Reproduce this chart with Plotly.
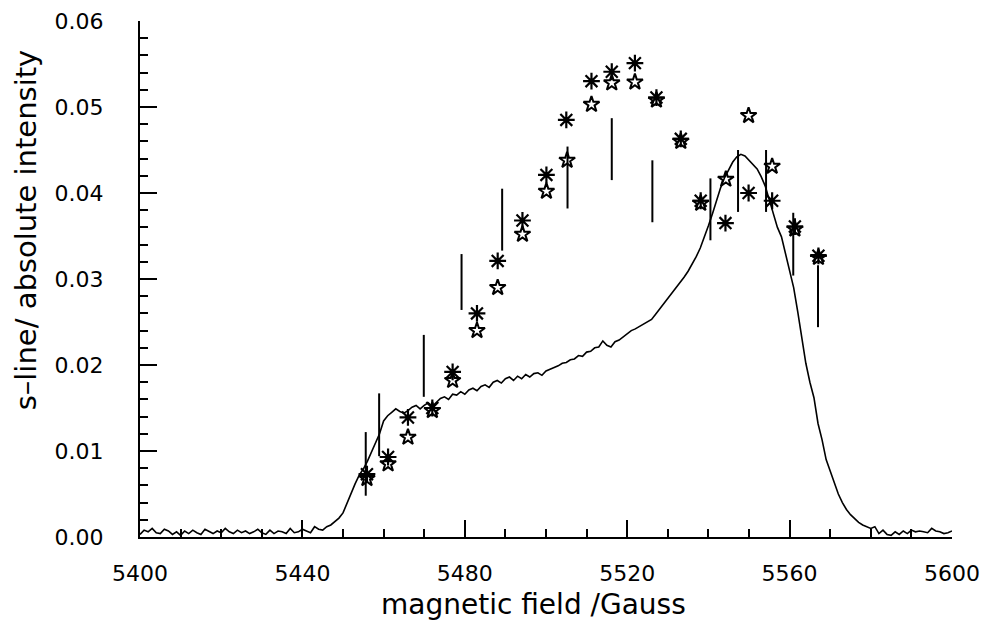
import plotly.graph_objects as go

# ---------------- data ----------------
# measured spectrum (magnetic field in Gauss, absolute intensity)
field = list(range(5400, 5601))
intensity = [
    # 5400-5444 baseline
    0.0003, 0.0008, 0.0006, 0.0010, 0.0005, 0.0004, 0.0009, 0.0007, 0.0003, 0.0006,
    0.0002, 0.0007, 0.0004, 0.0008, 0.0005, 0.0003, 0.0009, 0.0006, 0.0004, 0.0007,
    0.0005, 0.0010, 0.0006, 0.0004, 0.0008, 0.0005, 0.0007, 0.0004, 0.0006, 0.0009,
    0.0005, 0.0003, 0.0008, 0.0004, 0.0007, 0.0006, 0.0004, 0.0010, 0.0005, 0.0006,
    0.0009, 0.0007, 0.0005, 0.0012, 0.0009,
    # 5445-5499 rise and plateau
    0.0008, 0.0012, 0.0014, 0.0018, 0.0022, 0.0028, 0.0040, 0.0050, 0.0062, 0.0072,
    0.0079, 0.0088, 0.0098, 0.0108, 0.0120, 0.0135, 0.0141, 0.0145, 0.0149, 0.0146,
    0.0144, 0.0147, 0.0151, 0.0153, 0.0149, 0.0153, 0.0156, 0.0152, 0.0157, 0.0161,
    0.0163, 0.0160, 0.0166, 0.0165, 0.0169, 0.0166, 0.0171, 0.0173, 0.0170, 0.0175,
    0.0177, 0.0174, 0.0180, 0.0182, 0.0179, 0.0184, 0.0186, 0.0182, 0.0187, 0.0184,
    0.0189, 0.0186, 0.0190, 0.0191, 0.0188,
    # 5500-5549
    0.0193, 0.0195, 0.0197, 0.0199, 0.0202, 0.0203, 0.0206, 0.0207, 0.0211, 0.0210,
    0.0215, 0.0216, 0.0220, 0.0221, 0.0228, 0.0223, 0.0221, 0.0227, 0.0229, 0.0233,
    0.0236, 0.0240, 0.0242, 0.0245, 0.0247, 0.0251, 0.0253, 0.0259, 0.0265, 0.0271,
    0.0277, 0.0283, 0.0289, 0.0295, 0.0302, 0.0309, 0.0317, 0.0326, 0.0336, 0.0348,
    0.0362, 0.0376, 0.0392, 0.0406, 0.0418, 0.0428, 0.0436, 0.0442, 0.0445, 0.0443,
    # 5550-5580 fall
    0.0438, 0.0434, 0.0428, 0.0419, 0.0408, 0.0392, 0.0375, 0.0360, 0.0349, 0.0330,
    0.0308, 0.0290, 0.0262, 0.0232, 0.0202, 0.0180, 0.0162, 0.0132, 0.0113, 0.0090,
    0.0077, 0.0062, 0.0050, 0.0040, 0.0032, 0.0026, 0.0021, 0.0017, 0.0014, 0.0012,
    0.0010,
    # 5581-5600 baseline
    0.0012, 0.0004, 0.0008, 0.0003, 0.0002, 0.0006, 0.0003, 0.0007, 0.0004, 0.0008,
    0.0006, 0.0007, 0.0006, 0.0005, 0.0010, 0.0007, 0.0006, 0.0004, 0.0005, 0.0007,
]

# simulated intensities, set 1 (asterisks)
sim1_field = [5455.9, 5461.1, 5466.0, 5472.0, 5477.0, 5483.0, 5488.1, 5494.2, 5500.1, 5505.0,
              5511.2, 5516.2, 5521.9, 5527.2, 5533.2, 5538.1, 5544.2, 5549.9, 5555.7, 5561.3, 5567.1]
sim1_int = [0.0073, 0.0093, 0.0139, 0.0150, 0.0192, 0.0260, 0.0321, 0.0368, 0.0421, 0.0485,
            0.0530, 0.0541, 0.0551, 0.0511, 0.0463, 0.0391, 0.0365, 0.0400, 0.0391, 0.0361, 0.0327]

# simulated intensities, set 2 (stars)
sim2_field = [5455.9, 5461.1, 5466.0, 5472.0, 5477.0, 5483.0, 5488.1, 5494.2, 5500.1, 5505.2,
              5511.2, 5516.2, 5521.9, 5527.2, 5533.2, 5538.1, 5544.3, 5549.9, 5555.7, 5561.3, 5567.1]
sim2_int = [0.0068, 0.0085, 0.0116, 0.0147, 0.0182, 0.0240, 0.0290, 0.0352, 0.0402, 0.0438,
            0.0503, 0.0528, 0.0529, 0.0508, 0.0460, 0.0388, 0.0416, 0.0490, 0.0431, 0.0358, 0.0325]

# stick lines (position, lower end, upper end)
stick_field = [5455.6, 5458.9, 5469.9, 5479.2, 5489.2, 5505.3, 5516.2, 5526.2,
               5540.5, 5547.3, 5554.2, 5560.9, 5567.0]
stick_lo = [0.0048, 0.0094, 0.0163, 0.0264, 0.0333, 0.0382, 0.0415, 0.0366,
            0.0345, 0.0378, 0.0378, 0.0304, 0.0244]
stick_hi = [0.0122, 0.0167, 0.0235, 0.0329, 0.0405, 0.0454, 0.0487, 0.0438,
            0.0417, 0.0450, 0.0450, 0.0377, 0.0316]

x_ticks = [5400, 5440, 5480, 5520, 5560, 5600]
x_ticktext = ["5400", "5440", "5480", "5520", "5560", "5600"]
y_ticks = [0.00, 0.01, 0.02, 0.03, 0.04, 0.05, 0.06]
y_ticktext = ["0.00", "0.01", "0.02", "0.03", "0.04", "0.05", "0.06"]

# ---------------- figure ----------------
stick_x, stick_y = [], []
for sx, lo, hi in zip(stick_field, stick_lo, stick_hi):
    stick_x += [sx, sx, None]
    stick_y += [lo, hi, None]

fig = go.Figure()
fig.add_trace(go.Scatter(x=field, y=intensity, mode="lines",
                         line=dict(color="black", width=1.6), cliponaxis=False))
fig.add_trace(go.Scatter(x=stick_x, y=stick_y, mode="lines",
                         line=dict(color="black", width=2)))
fig.add_trace(go.Scatter(x=sim1_field, y=sim1_int, mode="markers",
                         marker=dict(symbol="asterisk-open", size=14, color="black",
                                     line=dict(color="black", width=2.2)), cliponaxis=False))
fig.add_trace(go.Scatter(x=sim2_field, y=sim2_int, mode="markers",
                         marker=dict(symbol="star-open", size=12, color="black",
                                     line=dict(color="black", width=2)), cliponaxis=False))

font_family = "DejaVu Sans"
fig.update_layout(
    width=982, height=639,
    margin=dict(l=140, r=30, t=21, b=102, autoexpand=False),
    paper_bgcolor="white", plot_bgcolor="white",
    showlegend=False,
    font=dict(family=font_family, color="black", size=22),
    xaxis=dict(
        range=[5400, 5600], tickmode="array", tickvals=x_ticks, ticktext=x_ticktext,
        ticks="inside", ticklen=17, tickwidth=2, tickcolor="black",
        minor=dict(ticks="inside", ticklen=8, tickwidth=1.5, tickcolor="black", dtick=10, tick0=5400),
        showline=True, linecolor="black", linewidth=2, mirror=False,
        showgrid=False, zeroline=False, ticklabelstandoff=16, ticklabeloverflow="allow",
        tickfont=dict(size=22, family=font_family), automargin=False,
    ),
    yaxis=dict(
        range=[0, 0.06], tickmode="array", tickvals=y_ticks, ticktext=y_ticktext,
        ticks="inside", ticklen=17, tickwidth=2, tickcolor="black",
        minor=dict(ticks="inside", ticklen=8, tickwidth=1.5, tickcolor="black", dtick=0.002, tick0=0),
        showline=True, linecolor="black", linewidth=2, mirror=False,
        showgrid=False, zeroline=False, ticklabelstandoff=30, ticklabeloverflow="allow",
        tickfont=dict(size=22, family=font_family), automargin=False,
    ),
    annotations=[
        dict(text="magnetic field /Gauss", xref="paper", yref="paper",
             x=0.485, y=-0.13, xanchor="center", yanchor="middle", showarrow=False,
             font=dict(size=28, family=font_family)),
        dict(text="s\u2013line/ absolute intensity", xref="paper", yref="paper",
             x=-0.14, y=0.595, xanchor="center", yanchor="middle", showarrow=False,
             textangle=-90, font=dict(size=29, family=font_family)),
    ],
)

fig.write_html("out.html", config={"displayModeBar": False},
               post_script="document.body.style.margin='0px';document.body.style.overflow='hidden';")
